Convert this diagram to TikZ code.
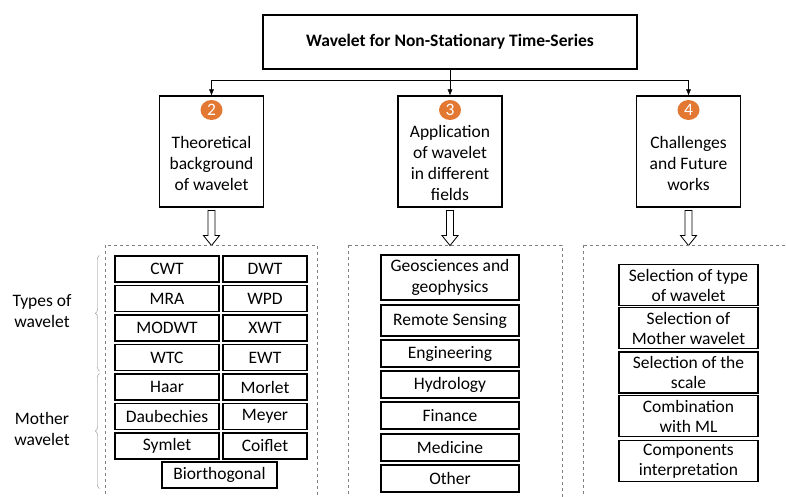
\documentclass[tikz,border=0pt]{standalone}
\usepackage{fontspec}
\setmainfont{Carlito}
\usetikzlibrary{shapes.geometric,decorations.pathreplacing,arrows.meta}
\definecolor{badgeorange}{RGB}{226,120,50}

\begin{document}
\begin{tikzpicture}[x=1pt, y=-1pt, font=\fontsize{17.5}{21}\selectfont,
    >={Latex[length=6pt,width=5pt]},
    box/.style={draw, line width=1.1pt, align=center, inner sep=1pt},
    topic/.style={box, minimum width=104pt, minimum height=111pt},
    cell/.style={box, minimum height=26pt},
    badge/.style={ellipse, fill=badgeorange, text=white, inner sep=0pt, minimum width=22pt, minimum height=20pt},
    group/.style={draw=gray, dashed, line width=0.8pt},
    bracket/.style={draw=gray, decorate, decoration={brace, amplitude=4pt}}]
    \useasboundingbox (0,0) rectangle (786,496);
    \clip (0,0) rectangle (786,496);

    \node (title) at (450,42) [box, minimum width=374pt, minimum height=54pt, font=\bfseries\fontsize{17.5}{21}\selectfont] {Wavelet for Non-Stationary Time-Series};

    % the three topics
    \node (t2) at (211.5,151.5) [topic] {};
    \node (t3) at (450,151.5) [topic] {};
    \node (t4) at (688.5,151.5) [topic] {};
    \node (b2) at (211.5,110) [badge] {2};
    \node (b3) at (450,110) [badge] {3};
    \node (b4) at (688.5,110) [badge] {4};
    \node (l2) at (211.5,163) [align=center] {Theoretical\\background\\of wavelet};
    \node (l3) at (450,162.5) [align=center] {Application\\of wavelet\\in different\\fields};
    \node (l4) at (688.5,163) [align=center] {Challenges\\and Future\\works};

    \draw[->] (title.south) -- ++(0,11) -| (t2.north);
    \draw[->] (title.south) -- ++(0,11) -| (t4.north);
    \draw[->] (title.south) -- (t3.north);

    \foreach \t in {t2,t3,t4}
        \draw[line width=0.8pt] ([shift={(-3.5,3)}]\t.south) -- ++(0,25) -- ++(-4.5,0) -- ++(8,10) -- ++(8,-10) -- ++(-4.5,0) -- ++(0,-25) -- cycle;

    % dashed groups
    \draw[group] (105,245) rectangle (317,510);
    \draw[group] (348,245) rectangle (562,510);
    \draw[group] (583,245) rectangle (800,510);

    % types and mother wavelets
    \foreach \a/\b [count=\i] in {CWT/DWT, MRA/WPD, MODWT/XWT, WTC/EWT, Haar/Morlet, Daubechies/Meyer, Symlet/Coiflet} {
        \node (ta\i) at (167,239.5+29.5*\i) [cell, minimum width=104pt] {\a};
        \node (tb\i) at (265,239.5+29.5*\i) [cell, minimum width=84pt] {\b};
    }
    \node (bio) at (219.5,475) [cell, minimum width=115pt] {Biorthogonal};

    \draw[bracket] ([xshift=-15pt]ta4.south west) -- ([xshift=-15pt]ta1.north west);
    \draw[bracket] ([xshift=-15pt]ta7.south west |- bio.south) -- ([xshift=-15pt]ta5.north west);
    \node (types) at (42,311) [align=center] {Types of\\wavelet};
    \node (mother) at (42,429) [align=center] {Mother\\wavelet};

    % fields
    \foreach \name/\y/\h [count=\i] in {{Geosciences and\\geophysics}/277.5/45, Remote Sensing/320.5/31, Engineering/353.5/27, Hydrology/384.5/27, Finance/415.5/27, Medicine/447.5/27, Other/478.5/27}
        \node (f\i) at (450,\y) [cell, minimum width=138pt, minimum height=\h pt] {\name};

    % challenges
    \foreach \name/\y [count=\i] in {{Selection of type\\of wavelet}/285, {Selection of\\Mother wavelet}/328, {Selection of the\\scale}/372.5, {Combination\\with ML}/416, {Components\\interpretation}/461}
        \node (c\i) at (688.5,\y) [cell, minimum width=139pt, minimum height=41pt, font=\fontsize{17.5}{20}\selectfont] {\name};
\end{tikzpicture}
\end{document}
